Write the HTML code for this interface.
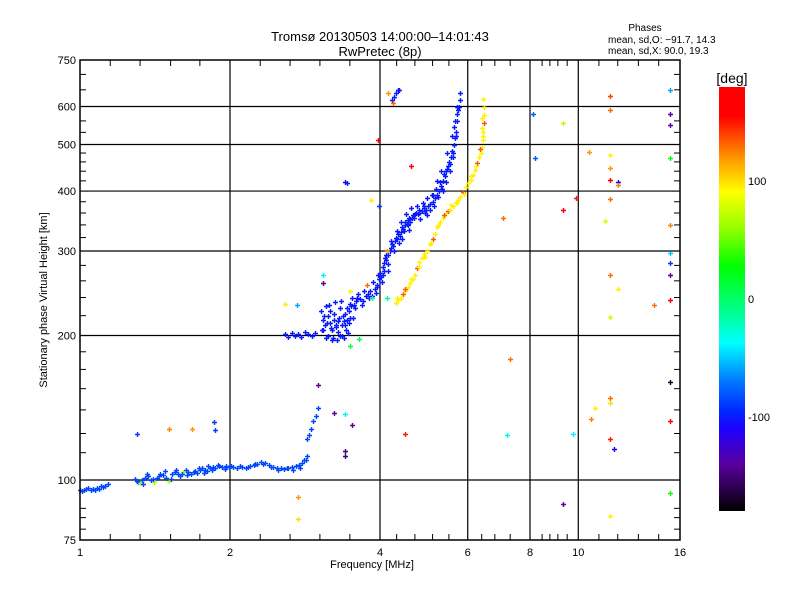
<!DOCTYPE html>
<html><head><meta charset="utf-8"><style>
body{margin:0;background:#fff;}
svg text{font-family:"Liberation Sans",sans-serif;fill:#000;}
</style></head><body>
<svg id="chart" width="800" height="600" viewBox="0 0 800 600" xmlns="http://www.w3.org/2000/svg">
<defs>
<linearGradient id="cb" x1="0" y1="1" x2="0" y2="0">
<stop offset="0" stop-color="#000000"/>
<stop offset="0.111" stop-color="#5a00a0"/>
<stop offset="0.194" stop-color="#1e00ff"/>
<stop offset="0.236" stop-color="#0028ff"/>
<stop offset="0.306" stop-color="#0078ff"/>
<stop offset="0.397" stop-color="#00ffff"/>
<stop offset="0.472" stop-color="#00ff8c"/>
<stop offset="0.578" stop-color="#00ff00"/>
<stop offset="0.667" stop-color="#96ff00"/>
<stop offset="0.753" stop-color="#ffff00"/>
<stop offset="0.833" stop-color="#ff9600"/>
<stop offset="0.931" stop-color="#ff0000"/>
<stop offset="1" stop-color="#ff0000"/>
</linearGradient>
</defs>
<text x="380" y="41" font-size="13" text-anchor="middle">Tromsø 20130503 14:00:00–14:01:43</text>
<text x="380" y="56" font-size="13" text-anchor="middle">RwPretec (8p)</text>
<text x="645" y="31" font-size="10" text-anchor="middle">Phases</text>
<text x="608" y="43" font-size="10">mean, sd,O: −91.7, 14.3</text>
<text x="608" y="54" font-size="10">mean, sd,X:  90.0, 19.3</text>
<g id="grid"></g>
<g id="marks"></g>
<rect x="80" y="60" width="600" height="480" fill="none" stroke="#000" stroke-width="1.5"/>
<g id="ticks"></g>
<text x="372" y="568" font-size="11" text-anchor="middle">Frequency [MHz]</text>
<text transform="translate(47,300) rotate(-90)" font-size="11" text-anchor="middle">Stationary phase Virtual Height [km]</text>
<rect x="719" y="87" width="26" height="424" fill="url(#cb)"/>
<text x="732" y="83" font-size="14" text-anchor="middle">[deg]</text>
<g id="cbticks"></g>
</svg>
<script>
// axis data
const xTickVals=[1,2,4,6,8,10,16];
const xTickLabels=["1","2","4","6","8","10","16"];
const xGridVals=[2,4,6,8,10];
const xMinorVals=[1.15,1.32,1.52,1.74,2.3,2.64,3.03,3.48,4.32,4.7,5.1,5.5,6.4,6.8,7.3,8.46,8.77,9.1,9.5,11,12,13.2,14.5];
const yTickVals=[750,600,500,400,300,200,100,75];
const yTickLabels=["750","600","500","400","300","200","100","75"];
const yGridVals=[600,500,400,300,200,100];
const yMinorVals=[79,83.5,87.3,114,125,140,155,170,185,220,240,260,280,320,340,360,380,420,440,460,480,530,560,650,700];
const cbTickVals=[100,0,-100];
const cbTickLabels=["100","0","-100"];

// low (E-region) trace
const lowFreq=[1.00,1.02,1.03,1.05,1.06,1.08,1.09,1.11,1.12,1.14,1.29,1.31,1.32,1.33,1.35,1.37,1.39,1.41,1.43,1.45,1.47,1.49,1.51,1.53,1.55,1.57,1.59,1.61,1.63,1.65,1.67,1.70,1.72,1.74,1.76,1.78,1.80,1.82,1.85,1.87,1.90,1.93,1.96,1.99,2.03,2.07,2.11,2.15,2.19,2.23,2.27,2.31,2.35,2.40,2.44,2.48,2.53,2.57,2.62,2.66,2.71,2.75,2.79,2.82,2.85,2.86,2.88,2.91,2.94,2.97,3.00,1.01,1.04,1.07,1.10,1.30,1.34,1.36,1.40,1.44,1.48,1.52,1.56,1.60,1.64,1.69,1.73,1.77,1.81,1.84,1.89,1.95,2.01,2.09,2.17,2.25,2.33,2.42,2.50,2.60,2.68,2.77,2.84];
const lowHeight=[95.5,95.3,95.8,95.2,96,96.3,96,96.5,97,98,100.5,99,98.5,100,101,102,100,99,101,103,102.5,101,99.5,103,104,103,102,104,105,104,103,104.5,103.5,105,106,105,104.5,106,106.5,106,107,106.5,107,106.5,106.5,106,106.5,106,107,107.5,108,109,108.5,107.5,106.5,106,106,105.5,106,106.5,107,107.5,108.5,110,112,122,124,128,133,136,141,94.8,96.2,95.5,97,99.5,98,103,100.5,102,104.5,100.5,105,103,102.5,104,106,103.5,107,105,107.5,105.5,107,107,106.5,108,108,106.5,105,106,105,106,110];
const lowPhase=-85;

// O-mode F trace
const oFreq=[2.58,2.62,2.66,2.70,2.74,2.78,2.83,2.87,2.92,2.96,3.05,3.07,3.08,3.10,3.12,3.14,3.15,3.17,3.18,3.20,3.22,3.23,3.25,3.26,3.28,3.30,3.31,3.33,3.35,3.36,3.38,3.40,3.42,3.44,3.46,3.48,3.50,3.52,3.55,3.58,3.60,3.65,3.70,3.75,3.80,3.85,3.90,3.95,3.98,4.00,4.02,4.05,4.08,4.10,4.12,4.15,4.18,4.20,4.23,4.25,4.28,4.30,4.33,4.35,4.38,4.40,4.43,4.45,4.48,4.50,4.53,4.55,4.58,4.60,4.63,4.66,4.70,4.73,4.76,4.80,4.85,4.90,4.95,5.00,5.05,5.10,5.15,5.20,5.25,5.30,5.35,5.40,5.45,5.50,5.55,5.60,5.62,5.65,5.68,5.70,5.72,5.75,5.78,5.80,4.22,4.26,4.30,4.34,4.37,5.2,5.3,5.45,5.58,5.66,4.6,4.9,5.1,3.95,4.05];
const oHeight=[201,199,202,200,201,199,203,201,200,202,225,215,205,210,230,220,200,212,225,205,198,215,235,208,196,203,218,228,200,210,214,222,205,215,225,218,230,240,232,236,240,238,236,242,240,242,250,255,262,270,265,278,283,290,287,295,300,305,310,307,315,320,318,326,322,328,336,334,340,345,342,348,352,350,352,356,358,360,358,360,364,368,366,372,376,380,386,392,400,410,420,430,445,460,470,480,500,515,530,560,580,600,620,640,620,628,640,648,650,420,440,480,520,560,345,372,392,252,268];
// O-mode spread echoes
const o2Freq=[3.06,3.09,3.11,3.13,3.16,3.19,3.21,3.24,3.27,3.29,3.32,3.34,3.37,3.39,3.41,3.43,3.45,3.47,3.49,3.53,3.56,3.62,3.68,3.72,3.78,3.88,3.92,3.97,4.03,4.07,4.11,4.16,4.21,4.27,4.32,4.36,4.41,4.46,4.51,4.56,4.62,4.68,4.74,4.82,4.88,4.93,4.98,5.03,5.08,5.14,5.18,5.23,5.28,5.33,5.38,5.43,5.48,5.52,5.57,5.61,5.64,5.67,5.71,5.74,5.52,5.42,5.35,4.96,4.78,4.57,4.42,4.16,3.82];
const o2Height=[205,220,198,212,232,207,196,222,210,214,200,236,220,198,210,228,202,212,233,218,228,244,232,248,244,258,245,268,258,272,295,282,315,300,330,312,345,330,358,340,368,352,372,350,378,360,386,366,392,372,404,388,418,404,435,418,452,440,485,470,545,520,600,590,455,440,400,356,366,332,318,272,248];
const oPhase=-100;

// X-mode F trace
const xFreq=[4.30,4.35,4.40,4.45,4.50,4.55,4.60,4.65,4.70,4.75,4.80,4.85,4.90,4.97,5.03,5.10,5.16,5.21,5.28,5.35,5.42,5.48,5.53,5.60,5.67,5.73,5.80,5.88,5.95,6.02,6.08,6.14,6.20,6.27,6.33,6.38,6.41,6.43,6.45,6.46,6.47,6.48,6.45,6.40,4.33,4.48,4.62,4.78,4.93,5.06,5.24,5.38,5.56,5.70,5.90,6.10,6.24,6.36,6.44,6.42];
const xHeight=[234,237,240,244,248,252,257,262,268,276,284,290,296,300,310,318,326,336,344,352,360,364,366,372,380,384,389,398,408,415,422,432,442,457,470,480,495,510,530,555,575,600,622,540,240,250,262,278,292,312,340,356,374,378,394,430,450,490,520,568];
const xPhase=95;

// scattered echoes
const sFreq=[15.27,11.6,11.6,8.1,15.27,9.33,15.27,10.5,11.6,15.27,8.2,11.6,11.6,12.0,12.0,9.9,9.33,11.6,7.06,11.3,15.27,15.27,15.27,11.6,15.27,12.0,15.27,14.2,11.6,7.3,15.27,11.6,10.8,11.6,10.6,15.27,7.2,9.75,11.6,11.8,15.27,9.33,11.6,3.96,4.62,3.4,4.5,3.4,3.4,2.74,2.74,3.4,3.51,3.23,3.0,1.87,1.51,1.68,1.30,1.86,2.58,2.72,3.07,3.07,3.43,3.84,3.99,3.49,3.77,3.86,4.13,4.13,3.48,3.63,4.15,4.25];
const sHeight=[648,630,590,580,580,555,550,483,475,469,469,447,422,418,412,387,365,385,352,347,340,297,283,267,268,250,237,231,219,179,160,148,141,145,134,133,124,125,122,116,94,89,84,510,452,418,125,115,112,92,83,137,130,138,158,127,128,128,125,132,233,231,257,268,415,384,372,248,255,240,300,240,190,197,640,610];
const sPhase=[-60,140,130,-80,-140,70,-140,120,95,30,-80,120,160,-110,125,150,170,130,130,80,125,-50,-90,130,-140,95,165,130,75,130,-170,130,95,100,125,165,-40,-40,150,-110,30,-140,95,160,160,-110,150,-150,-150,120,100,-40,-140,-140,-140,-90,125,120,-90,-90,95,-60,-140,-40,-100,95,-90,95,130,-10,120,-10,10,10,120,130];

const X0=80,X1=680,Y0=540,Y1=60;
function xs(f){return X0+(X1-X0)*Math.log(f)/Math.log(16);}
function ys(h){return Y0-(Y0-Y1)*Math.log10(h/75)/Math.log10(10);}
function cbY(v){return 511-(v+180)/360*424;}
const stops=[[-180,[0,0,0]],[-140,[90,0,160]],[-110,[30,0,255]],[-95,[0,40,255]],[-70,[0,120,255]],[-37,[0,255,255]],[-10,[0,255,140]],[28,[0,255,0]],[60,[150,255,0]],[91,[255,255,0]],[120,[255,150,0]],[155,[255,0,0]],[180,[255,0,0]]];
function col(p){
  for(let i=0;i<stops.length-1;i++){
    const a=stops[i],b=stops[i+1];
    if(p<=b[0]){const t=Math.max(0,(p-a[0])/(b[0]-a[0]));
      const c=a[1].map((v,k)=>Math.round(v+(b[1][k]-v)*t));return `rgb(${c[0]},${c[1]},${c[2]})`;}
  }
  return 'rgb(255,0,0)';
}
const NS='http://www.w3.org/2000/svg';
function mk(tag,attrs,parent){const e=document.createElementNS(NS,tag);for(const k in attrs)e.setAttribute(k,attrs[k]);parent.appendChild(e);return e;}
const grid=document.getElementById('grid'),ticks=document.getElementById('ticks'),marks=document.getElementById('marks'),cbt=document.getElementById('cbticks');
xGridVals.forEach(v=>{const l=mk('line',{x1:xs(v),x2:xs(v),y1:Y1,y2:Y0,stroke:'#000','stroke-width':1.2},grid);

});
yGridVals.forEach(v=>{const l=mk('line',{x1:X0,x2:X1,y1:ys(v),y2:ys(v),stroke:'#000','stroke-width':1.2},grid);

});
xTickVals.forEach((v,i)=>{const t=mk('text',{x:xs(v),y:556,'font-size':11,'text-anchor':'middle'},ticks);t.textContent=xTickLabels[i];

});
yTickVals.forEach((v,i)=>{const t=mk('text',{x:76,y:ys(v)+4,'font-size':11,'text-anchor':'end'},ticks);t.textContent=yTickLabels[i];


mk('line',{x1:X0,x2:X0+10,y1:ys(v),y2:ys(v),stroke:'#000'},ticks);mk('line',{x1:X1,x2:X1-10,y1:ys(v),y2:ys(v),stroke:'#000'},ticks);});
xMinorVals.forEach(v=>{mk('line',{x1:xs(v),x2:xs(v),y1:Y0,y2:Y0-6,stroke:'#000'},ticks);mk('line',{x1:xs(v),x2:xs(v),y1:Y1,y2:Y1+6,stroke:'#000'},ticks);});
yMinorVals.forEach(v=>{mk('line',{x1:X0,x2:X0+6,y1:ys(v),y2:ys(v),stroke:'#000'},ticks);mk('line',{x1:X1,x2:X1-6,y1:ys(v),y2:ys(v),stroke:'#000'},ticks);});
cbTickVals.forEach((v,i)=>{const t=mk('text',{x:748,y:cbY(v)+4,'font-size':11},cbt);t.textContent=cbTickLabels[i];

});
function plus(f,h,p,name){
  const x=Math.round(xs(f)),y=Math.round(ys(h));
  const g=mk('path',{d:`M${x-2} ${y+0.5}h5M${x+0.5} ${y-2}v5`,stroke:col(p),'stroke-width':1.4,fill:'none'},marks);
  
  
}
lowFreq.forEach((f,i)=>plus(f,lowHeight[i],lowPhase+(i%5===2?150:0)*(i>9&&i<30?1:0),'low-trace-point'));
oFreq.forEach((f,i)=>plus(f,oHeight[i],oPhase,'o-trace-point'));
o2Freq.forEach((f,i)=>plus(f,o2Height[i],oPhase,'o-spread-point'));
xFreq.forEach((f,i)=>plus(f,xHeight[i],xPhase+(i%6===3?40:0),'x-trace-point'));
sFreq.forEach((f,i)=>plus(f,sHeight[i],sPhase[i],'scatter-point'));
</script>
</body></html>
